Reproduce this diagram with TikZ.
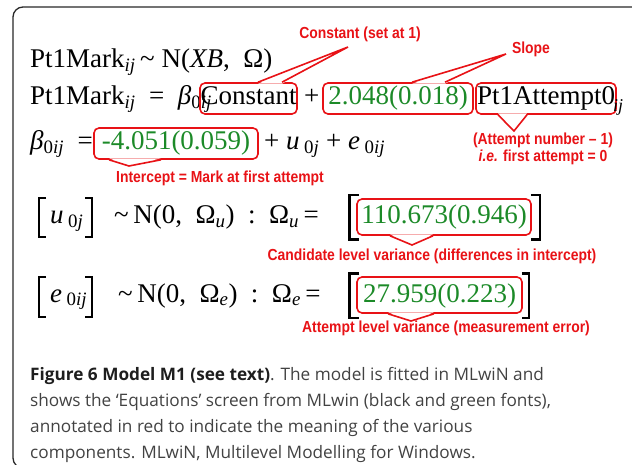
\documentclass[tikz,border=0pt]{standalone}
\usepackage{fontspec}
\setmainfont{Liberation Serif}
\newfontfamily\annfont[FakeStretch=0.87]{Liberation Sans}
\newfontfamily\capfont{Open Sans}
\usetikzlibrary{positioning, calc, backgrounds}

\definecolor{annred}{RGB}{232,18,22}
\definecolor{mlgreen}{RGB}{28,138,40}
\definecolor{captext}{RGB}{66,66,66}
\definecolor{capbold}{RGB}{30,30,30}
\definecolor{framegray}{RGB}{40,40,40}

% white cover over the box border, then the two red sides of the pointer
\newcommand{\tagwedge}[4]{%
  \fill[white] ($(#1)+(0,#4)$) -- (#3) -- ($(#2)+(0,#4)$) -- cycle;
  \draw[wedgeline] (#1) -- (#3) -- (#2);}

\begin{document}
\begin{tikzpicture}[x=1pt, y=-1pt,
  eq/.style={anchor=base west, inner sep=0pt, font=\fontsize{27}{30}\selectfont},
  hbox/.style={draw=annred, line width=1.6pt, rounded corners=5pt, anchor=base,
               inner xsep=0pt, inner ysep=3pt, text height=19pt, text depth=6pt,
               font=\fontsize{27}{30}\selectfont},
  vbox/.style={hbox, text height=22pt, text depth=8pt},
  num/.style={text=mlgreen},
  note/.style={text=annred, font=\annfont\bfseries\fontsize{16}{16.5}\selectfont,
               inner sep=0pt, align=center},
  wedgeline/.style={draw=annred, line width=1.6pt, line join=miter},
  bigbrk/.style={line width=2.6pt},
  smallbrk/.style={line width=1.4pt},
  frame/.style={draw=framegray, line width=1.3pt, rounded corners=10pt},
  caption/.style={anchor=north west, inner sep=0pt, align=left, text=captext,
                  font=\capfont\fontsize{17.2}{26}\selectfont},
]
\useasboundingbox (0,0) rectangle (632,465);

% === Frame ===
\begin{scope}
  \clip (0,0) rectangle (632,465);
  \draw[frame] (13,7) rectangle (700,468);
\end{scope}

% === Equations ===

% line 1
\node[eq] (l1) at (30,68) {Pt1Mark\textsubscript{\textit{ij}}\,\textasciitilde\ N(\textit{XB},\ \ Ω)};

% line 2
\node[eq] (l2) at (30,105) {Pt1Mark\textsubscript{\textit{ij}}\ \ =\ \ \textit{β}\textsubscript{0\textit{ij}}};
\node[hbox, minimum width=97pt] (c1) at (248.5,105) {Constant};
\node[eq] (p1) at (304,105) {+};
\node[hbox, num, minimum width=150pt] (c2) at (398,105) {2.048(0.018)};
\node[hbox, minimum width=140pt] (c3) at (546,105) {Pt1Attempt0};
\node[eq, font=\fontsize{18}{20}\selectfont] (s3) at (613,112) {\textit{ij}};

% line 3
\node[eq] (l3) at (30,150) {\textit{β}\textsubscript{0\textit{ij}}\ \ =};
\node[hbox, num, minimum width=164pt] (c4) at (176,150) {-4.051(0.059)};
\node[eq] (l3r) at (264,150) {+\ \textit{u}\,\textsubscript{0\textit{j}}\ +\ \textit{e}\,\textsubscript{0\textit{ij}}};

% line 4
\node[eq] (u4) at (50,224) {\textit{u}\,\textsubscript{0\textit{j}}};
\node[eq] (l4) at (114,224) {\textasciitilde\,N(0,\ \ Ω\textsubscript{\textit{u}})\ \ :\ \ Ω\textsubscript{\textit{u}}\,=};
\node[vbox, num, minimum width=174pt] (c5) at (444,224) {110.673(0.946)};

% line 5
\node[eq] (e5) at (50,302) {\textit{e}\,\textsubscript{0\textit{ij}}};
\node[eq] (l5) at (118,302) {\textasciitilde\,N(0,\ \ Ω\textsubscript{\textit{e}})\ \ :\ \ Ω\textsubscript{\textit{e}}\,=};
\node[vbox, num, minimum width=165pt] (c6) at (439.5,302) {27.959(0.223)};

% === Brackets ===
\begin{scope}[on background layer]
  \draw[smallbrk] (46,198) -| (39,237) -- (46,237);
  \draw[smallbrk] (85,198) -| (92,237) -- (85,237);
  \draw[smallbrk] (46,277) -| (39,317) -- (46,317);
  \draw[smallbrk] (85,277) -| (92,317) -- (85,317);
  \draw[bigbrk] ($(c5.north west)+(3,-3)$) -- ++(-10,0) |- ($(c5.south west)+(3,4)$);
  \draw[bigbrk] ($(c5.north east)+(-1,-3)$) -- ++(9,0) |- ($(c5.south east)+(-1,4)$);
  \draw[bigbrk] ($(c6.north west)+(3,-3)$) -- ++(-10,0) |- ($(c6.south west)+(3,4)$);
  \draw[bigbrk] ($(c6.north east)+(-1,-3)$) -- ++(7,0) |- ($(c6.south east)+(-1,4)$);
\end{scope}

% === Annotations ===
\node[note] (n1) at (360,34) {Constant (set at 1)};
\node[note] (n2) at (531,49) {Slope};
\node[note] (n3) at (543,149) {(Attempt number – 1)\\\textit{i.e.} first attempt = 0};
\node[note] (n4) at (220,178) {Intercept = Mark at first attempt};
\node[note] (n5) at (432,256) {Candidate level variance (differences in intercept)};
\node[note] (n6) at (446,328) {Attempt level variance (measurement error)};

% pointers
\coordinate (t1) at (348,47);
\coordinate (t2) at (506,54);
\coordinate (t3) at (514,131);
\coordinate (t4) at (129,166);
\coordinate (t5) at (412,245);
\coordinate (t6) at (411,321);
\coordinate (w1a) at (258,0 |- c1.north);
\coordinate (w1b) at (282,0 |- c1.north);
\coordinate (w2a) at (412,0 |- c2.north);
\coordinate (w2b) at (445,0 |- c2.north);
\coordinate (w3a) at (498,0 |- c3.south);
\coordinate (w3b) at (527,0 |- c3.south);
\coordinate (w4a) at (109,0 |- c4.south);
\coordinate (w4b) at (161,0 |- c4.south);
\coordinate (w5a) at (390,0 |- c5.south);
\coordinate (w5b) at (433,0 |- c5.south);
\coordinate (w6a) at (388,0 |- c6.south);
\coordinate (w6b) at (434,0 |- c6.south);
\tagwedge{w1a}{w1b}{t1}{1.5}
\tagwedge{w2a}{w2b}{t2}{1.5}
\tagwedge{w3a}{w3b}{t3}{-1.5}
\tagwedge{w4a}{w4b}{t4}{-1.5}
\tagwedge{w5a}{w5b}{t5}{-1.5}
\tagwedge{w6a}{w6b}{t6}{-1.5}

% === Caption ===
\node[caption] (cap) at (30,367) {{\color{capbold}\bfseries Figure 6 Model M1 (see text)}. The model is fitted in MLwiN and\\
shows the ‘Equations’ screen from MLwin (black and green fonts),\\
annotated in red to indicate the meaning of the various\\
components. MLwiN, Multilevel Modelling for Windows.};

\end{tikzpicture}
\end{document}
